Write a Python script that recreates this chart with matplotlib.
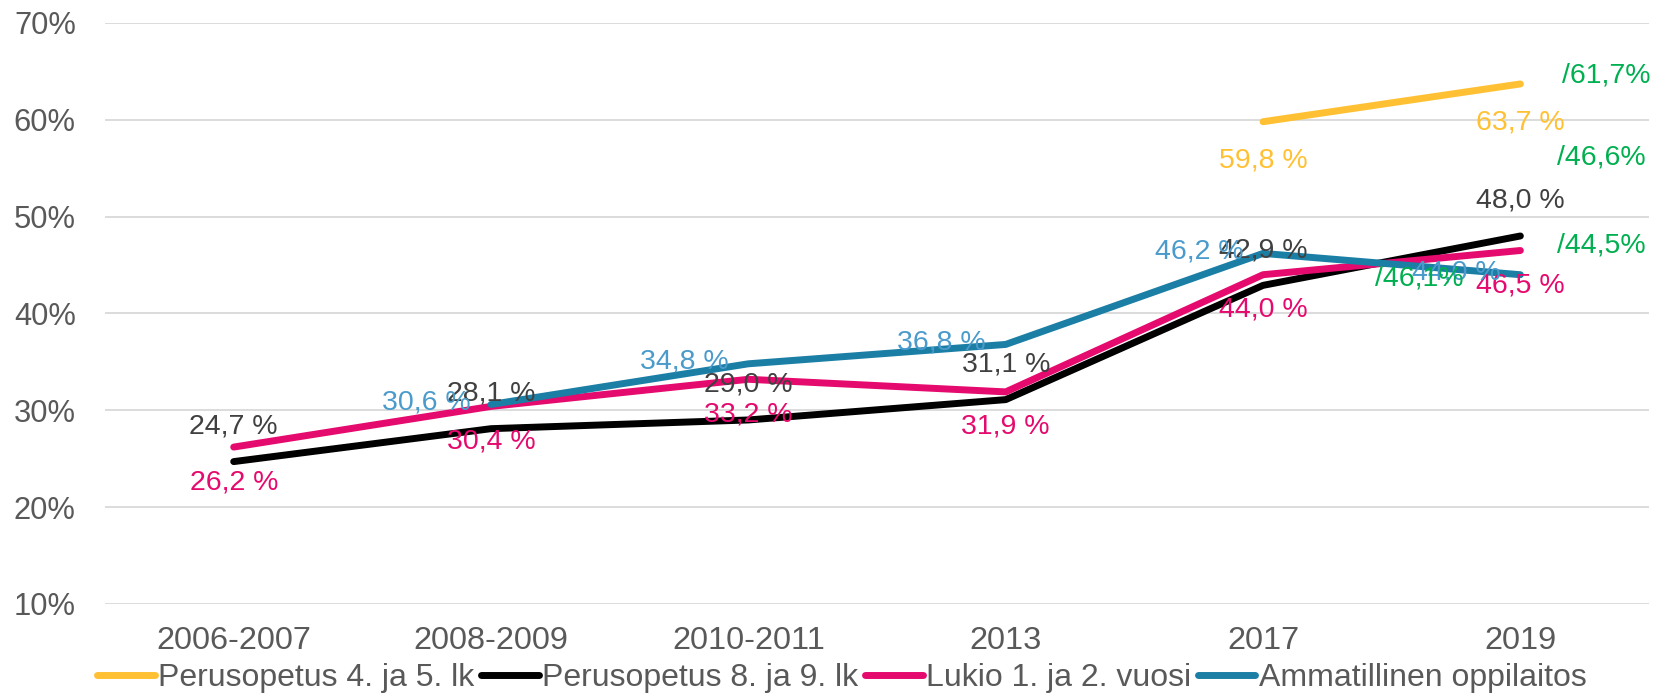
import numpy as np
import matplotlib
matplotlib.use('Agg')
import matplotlib.pyplot as plt

plt.rcParams['font.family'] = ['Liberation Sans', 'DejaVu Sans']

# data
years = ['2006-2007', '2008-2009', '2010-2011', '2013', '2017', '2019']
peruso_4_5 = [np.nan, np.nan, np.nan, np.nan, 59.8, 63.7]
peruso_8_9 = [24.7, 28.1, 29.0, 31.1, 42.9, 48.0]
lukio = [26.2, 30.4, 33.2, 31.9, 44.0, 46.5]
ammatillinen = [np.nan, 30.6, 34.8, 36.8, 46.2, 44.0]
names = ['Perusopetus 4. ja 5. lk', 'Perusopetus 8. ja 9. lk',
         'Lukio 1. ja 2. vuosi', 'Ammatillinen oppilaitos']
# comparison figures written in green next to the 2019 values
compare_2019 = ['/61,7%', '/46,6%', '/44,5%', '/46,1%']

line_cols = ['#FFC133', '#000000', '#E50A6E', '#1B7EA5']
label_cols = ['#FFC133', '#404040', '#E50A6E', '#4A9BCB']
green = '#00B050'

fig = plt.figure(figsize=(16.54, 6.95), dpi=100)
ax = fig.add_axes([0.0635, 0.131, 0.9335, 0.836])

x = np.arange(len(years))
series = [peruso_4_5, peruso_8_9, lukio, ammatillinen]
for s, name, c in zip(series, names, line_cols):
    ax.plot(x, s, color=c, lw=5, label=name, solid_capstyle='round',
            solid_joinstyle='round')

# data labels: (offset px, ha, va) per series
lab_fmt = [((0, -39), 'center', 'center'),
           ((0, 35), 'center', 'center'),
           ((0, -35), 'center', 'center'),
           ((-20, 2), 'right', 'center')]
for s, (off, ha, va), c in zip(series, lab_fmt, label_cols):
    for xi, v in zip(x, s):
        if np.isnan(v):
            continue
        txt = f'{v:.1f} %'.replace('.', ',')
        ax.annotate(txt, (xi, v), xytext=off, textcoords='offset pixels',
                    ha=ha, va=va, fontsize=20.5, color=c)

green_off = [(86, 8), (81, 78), (81, 5), (-101, -4)]
for s, t, off in zip(series, compare_2019, green_off):
    ax.annotate(t, (x[-1], s[-1]), xytext=off, textcoords='offset pixels',
                ha='center', va='center', fontsize=20.5, color=green)

ax.set_xlim(-0.5, 5.5)
ax.set_ylim(10, 70)
ax.set_yticks(np.arange(10, 71, 10))
ax.set_yticklabels([f'{v}%' for v in range(10, 71, 10)])
ax.set_xticks(x)
ax.set_xticklabels(years)
ax.tick_params(axis='y', length=0, pad=21, labelsize=22.2, labelcolor='#595959')
ax.tick_params(axis='x', length=0, pad=16, labelsize=23.4, labelcolor='#595959')
ax.grid(axis='y', color='#D9D9D9', lw=1.3)
ax.set_axisbelow(True)
for sp in ax.spines.values():
    sp.set_visible(False)

leg = fig.legend(loc='center', bbox_to_anchor=(0.509, 0.024), ncol=4,
                 frameon=False, fontsize=23, handlelength=1.8,
                 handletextpad=0.1, columnspacing=0.22, borderpad=0)
for t in leg.get_texts():
    t.set_color('#595959')

fig.savefig('out.png', dpi=100)
